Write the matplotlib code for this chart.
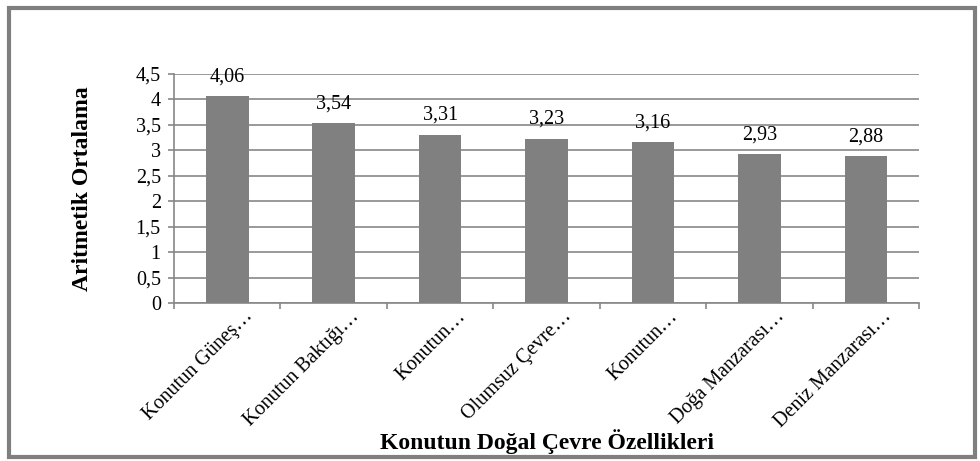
import matplotlib
matplotlib.use("Agg")
import matplotlib.pyplot as plt
from matplotlib.patches import Rectangle
import matplotlib.transforms as mtransforms

categories = ["Konutun Güneş…", "Konutun Baktığı…", "Konutun…", "Olumsuz Çevre…",
              "Konutun…", "Doğa Manzarası…", "Deniz Manzarası…"]
values = [4.06, 3.54, 3.31, 3.23, 3.16, 2.93, 2.88]
value_labels = ["4,06", "3,54", "3,31", "3,23", "3,16", "2,93", "2,88"]
yticks = [0, 0.5, 1, 1.5, 2, 2.5, 3, 3.5, 4, 4.5]
ytick_labels = ["0", "0,5", "1", "1,5", "2", "2,5", "3", "3,5", "4", "4,5"]

plt.rcParams['font.family'] = ['Liberation Serif', 'DejaVu Serif']

W, H = 980, 461
fig = plt.figure(figsize=(W/100, H/100), dpi=100)
ax = fig.add_axes([174/W, 1-303/H, (919-174)/W, (303-74)/H])

x = list(range(len(categories)))
ax.bar(x, values, width=0.4, color='#808080', zorder=3)
for xi, v, lab in zip(x, values, value_labels):
    ax.annotate(lab, (xi, v), xytext=(0, 7), textcoords='offset points',
                ha='center', va='bottom', fontsize=14.5, zorder=4)

ax.set_xlim(-0.5, len(categories) - 0.5)
ax.set_ylim(0, 4.5)
ax.set_yticks(yticks)
ax.set_yticklabels(ytick_labels, fontsize=14.5)
ax.yaxis.grid(True, color='#878787', linewidth=1.2, zorder=0)
ax.set_axisbelow(True)

ax.set_xticks([i - 0.5 for i in range(len(categories) + 1)], minor=False)
ax.set_xticklabels([])
ax.set_xticks(x, minor=True)
ax.set_xticklabels(categories, minor=True, rotation=45, ha='right',
                   rotation_mode='anchor', fontsize=14.5)
ax.tick_params(axis='x', which='minor', length=0, pad=3)
ax.tick_params(axis='x', which='major', length=4.5, color='#878787', width=1.2)
ax.tick_params(axis='y', length=4.5, color='#878787', width=1.2, pad=5)
offset = mtransforms.ScaledTranslation(16/100, 0, fig.dpi_scale_trans)
for lab in ax.xaxis.get_minorticklabels():
    lab.set_transform(lab.get_transform() + offset)

for s in ['top', 'right']:
    ax.spines[s].set_visible(False)
for s in ['left', 'bottom']:
    ax.spines[s].set_color('#878787')
    ax.spines[s].set_linewidth(1.2)

ax.set_ylabel("Aritmetik Ortalama", fontsize=17, fontweight='bold')
ax.yaxis.set_label_coords(-(174-83)/(919-174), 0.5)
ax.yaxis.label.set_va('center')
fig.text(547/W, 1-442/H, "Konutun Doğal Çevre Özellikleri", ha='center', va='center',
         fontsize=17, fontweight='bold')

fig.patches.append(Rectangle((9/W, 4/H), (975-9)/W, (457-4-4)/H, transform=fig.transFigure,
                             fill=False, edgecolor='#7f7f7f', linewidth=3))

fig.savefig("out.png", dpi=100)
